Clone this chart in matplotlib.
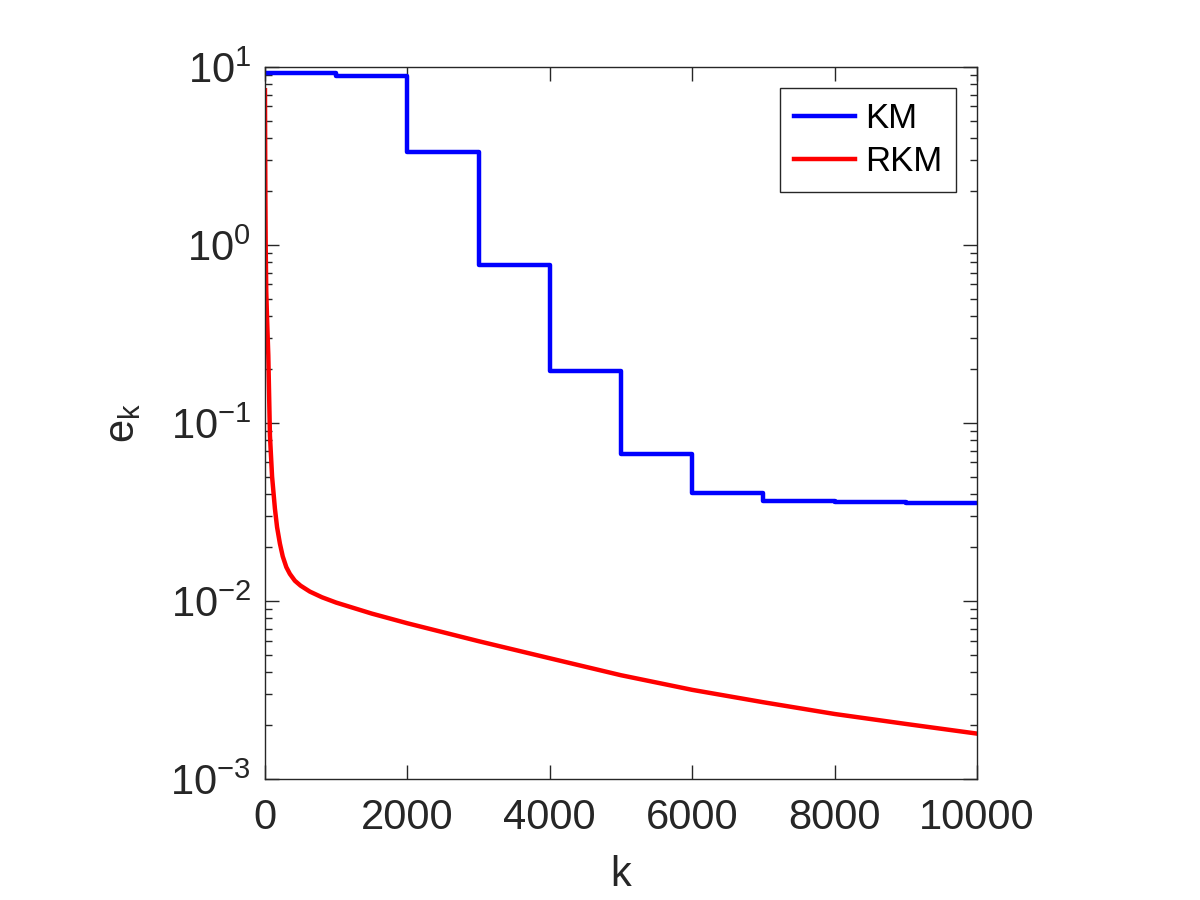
import numpy as np
import matplotlib
matplotlib.use("Agg")
import matplotlib.pyplot as plt
from matplotlib.ticker import LogLocator, NullFormatter

plt.rcParams['font.family'] = ['Liberation Sans', 'DejaVu Sans']
plt.rcParams['mathtext.fontset'] = 'custom'
plt.rcParams['mathtext.rm'] = 'Liberation Sans'
plt.rcParams['mathtext.it'] = 'Liberation Sans:italic'
plt.rcParams['mathtext.default'] = 'regular'

# KM error: piecewise constant, changes every 1000 iterations
km_k = [0, 1000, 2000, 3000, 4000, 5000, 6000, 7000, 8000, 9000, 10000]
km_e = [9.2, 8.87, 3.33, 0.774, 0.195, 0.067, 0.0405, 0.0363, 0.0358, 0.0355, 0.0355]

# RKM error
rkm_k = [0, 3, 6, 10, 18, 30, 47, 70, 100, 140, 170, 210, 250, 300, 350, 420,
         500, 630, 800, 1000, 1500, 2000, 3000, 4000, 5000, 6000, 7000, 8000,
         9000, 10000]
rkm_e = [7.4, 3.5, 1.8, 1.0, 0.55, 0.38, 0.24, 0.085, 0.05, 0.033, 0.026, 0.021,
         0.0178, 0.0155, 0.0142, 0.013, 0.0122, 0.0113, 0.0105, 0.0098, 0.0085,
         0.0075, 0.00595, 0.00477, 0.00383, 0.00317, 0.0027, 0.00232, 0.00204,
         0.0018]

fig = plt.figure(figsize=(12, 9), dpi=100)
ax = fig.add_axes([0.2208, 0.1344, 0.5933, 0.7912])

ax.step(km_k, km_e, where='post', color='#0000ff', lw=3.2, label='KM')
ax.plot(rkm_k, rkm_e, color='#ff0000', lw=3.2, label='RKM')

ax.set_yscale('log')
ax.set_xlim(0, 10000)
ax.set_ylim(1e-3, 1e1)
ax.set_xticks([0, 2000, 4000, 6000, 8000, 10000])
ax.yaxis.set_major_locator(LogLocator(base=10, numticks=10))
ax.yaxis.set_minor_locator(LogLocator(base=10, subs=np.arange(2, 10), numticks=20))
ax.yaxis.set_minor_formatter(NullFormatter())

tc = '#262626'
ax.tick_params(which='both', direction='in', top=True, right=True, colors=tc,
               labelsize=30, width=1)
ax.tick_params(which='major', length=10)
ax.tick_params(axis='x', which='major', pad=14)
ax.tick_params(axis='y', which='major', pad=10)
ax.tick_params(which='minor', length=5)
for s in ax.spines.values():
    s.set_color(tc)
    s.set_linewidth(1)

ax.set_xlabel('k', fontsize=30, color=tc, labelpad=12)
ax.set_ylabel('$e_k$', fontsize=30, color=tc, labelpad=20)

leg = ax.legend(loc='upper right', fontsize=25, fancybox=False, framealpha=1,
                edgecolor=tc, handlelength=1.75, borderaxespad=0.6,
                handletextpad=0.3, labelspacing=0.3)
leg.get_frame().set_linewidth(1)

fig.savefig('out.png', dpi=100)
